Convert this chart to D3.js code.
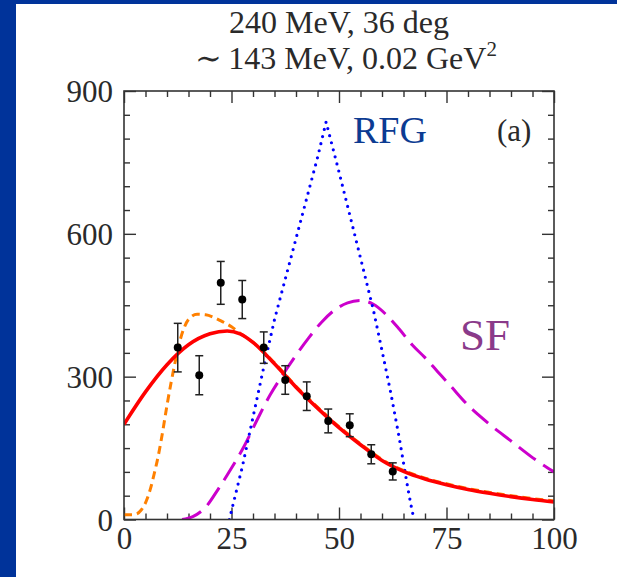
<!DOCTYPE html>
<html>
<head>
<meta charset="utf-8">
<script src="https://cdn.jsdelivr.net/npm/d3@7"></script>
<style>
  html, body { margin: 0; padding: 0; background: #ffffff; }
  svg { display: block; }
  text { font-family: "Liberation Serif", "DejaVu Serif", serif; }
</style>
</head>
<body>
<svg id="chart" width="617" height="577"></svg>
<script>
// Energy transfer axis values and tick labels
const xTicks = [0, 25, 50, 75, 100];
const yTicks = [0, 300, 600, 900];

// Measured cross section with uncertainties
const dataX   = [12.5, 17.5, 22.5, 27.5, 32.5, 37.5, 42.5, 47.5, 52.5, 57.5, 62.5];
const dataY   = [361, 303, 497, 462, 361, 293, 259, 207, 198, 137, 101];
const dataErr = [51, 41, 45, 40, 33, 30, 30, 25, 24, 20, 18];

// Full calculation (solid red)
const fullX = [0, 5, 10, 15, 20, 24, 27, 30, 35, 40, 45, 50, 55, 60, 65, 70, 75, 80, 85, 90, 95, 100];
const fullY = [200, 268, 325, 367, 390, 396, 390, 372, 327, 278, 234, 193, 157, 124, 101, 85, 73, 63, 55, 48, 42, 37];

// Alternative calculation (orange short dashes)
const altX = [0, 2, 3, 4, 5, 6, 7, 8, 9, 10, 11, 12, 13, 14, 15, 17, 19, 21, 23, 25, 27, 30, 35, 40, 45, 50, 55, 60, 65, 70, 75, 80, 85, 90, 95, 100];
const altY = [10, 10, 12, 20, 35, 60, 95, 135, 185, 240, 290, 335, 375, 403, 420, 431, 430, 424, 415, 405, 391, 372, 329, 280, 236, 195, 159, 126, 103, 87, 75, 65, 57, 50, 44, 39];

// Relativistic Fermi gas (blue dots)
const rfgX = [24.5, 27.5, 30, 32.5, 35, 37.5, 40, 42.5, 45, 47, 50, 53, 56, 58, 60, 62, 64, 66, 67, 67.5];
const rfgY = [0, 110, 215, 320, 420, 505, 590, 675, 760, 835, 730, 622, 513, 440, 355, 268, 172, 66, 18, 0];

// Spectral function (magenta long dashes)
const sfX = [13.5, 16, 19, 22, 25, 28, 31, 34, 37, 40, 43, 46, 49, 52, 55, 58, 61, 64, 67, 70, 73, 76, 80, 85, 90, 95, 100];
const sfY = [0, 6, 26, 65, 108, 155, 210, 262, 305, 345, 382, 415, 440, 455, 460, 452, 430, 400, 367, 340, 310, 280, 240, 200, 165, 130, 100];

const titleLines = ["240 MeV, 36 deg", "\u223C\u2009143 MeV, 0.02 GeV"];

const W = 617, H = 577;
const plot = { left: 124, right: 554, top: 91, bottom: 519.5 };

const svg = d3.select("#chart");

// page frame: white sheet with a blue band on the left and top
svg.append("rect").attr("x", 0).attr("y", 0).attr("width", W).attr("height", H).attr("fill", "#ffffff");
svg.append("rect").attr("x", 0).attr("y", 0).attr("width", 16).attr("height", H).attr("fill", "#00339a");
svg.append("rect").attr("x", 0).attr("y", 0).attr("width", W).attr("height", 4).attr("fill", "#00339a");

const x = d3.scaleLinear().domain([0, 100]).range([plot.left, plot.right]);
const y = d3.scaleLinear().domain([0, 900]).range([plot.bottom, plot.top]);

svg.append("clipPath").attr("id", "plotClip")
  .append("rect")
  .attr("x", plot.left).attr("y", plot.top)
  .attr("width", plot.right - plot.left).attr("height", plot.bottom - plot.top);

const axisColor = "#333333";
const majorX = xTicks;
const minorX = d3.range(0, 101, 5).filter(v => !majorX.includes(v));
const majorY = yTicks;
const minorY = d3.range(0, 901, 50).filter(v => !majorY.includes(v));

// inward ticks on all four sides
function addTicks(axisGen, translate, values, size) {
  const g = svg.append("g")
    .attr("transform", translate)
    .call(axisGen.tickValues(values).tickSize(size).tickFormat(""));
  g.select(".domain").remove();
  g.selectAll(".tick line").attr("stroke", axisColor).attr("stroke-width", 1.4);
  return g;
}
addTicks(d3.axisTop(x), `translate(0,${plot.bottom})`, majorX, 12);
addTicks(d3.axisTop(x), `translate(0,${plot.bottom})`, minorX, 6);
addTicks(d3.axisBottom(x), `translate(0,${plot.top})`, majorX, 12);
addTicks(d3.axisBottom(x), `translate(0,${plot.top})`, minorX, 6);
addTicks(d3.axisRight(y), `translate(${plot.left},0)`, majorY, 12);
addTicks(d3.axisRight(y), `translate(${plot.left},0)`, minorY, 6);
addTicks(d3.axisLeft(y), `translate(${plot.right},0)`, majorY, 12);
addTicks(d3.axisLeft(y), `translate(${plot.right},0)`, minorY, 6);

// tick labels
const xLab = svg.append("g")
  .attr("transform", `translate(0,${plot.bottom})`)
  .call(d3.axisBottom(x).tickValues(xTicks).tickSize(0).tickPadding(0).tickFormat(d3.format("d")));
xLab.select(".domain").remove();
xLab.selectAll("text")
  .attr("y", 29).attr("dy", 0)
  .attr("font-size", 31).attr("fill", "#2a2a2a")
  .attr("font-family", "Liberation Serif, serif");

const yLab = svg.append("g")
  .attr("transform", `translate(${plot.left},0)`)
  .call(d3.axisLeft(y).tickValues(yTicks).tickSize(0).tickPadding(0).tickFormat(d3.format("d")));
yLab.select(".domain").remove();
yLab.selectAll("text")
  .attr("x", -11).attr("dy", "0.35em")
  .attr("font-size", 31).attr("fill", "#2a2a2a")
  .attr("font-family", "Liberation Serif, serif");

// curves
const curves = svg.append("g").attr("clip-path", "url(#plotClip)");
const toPts = (xs, ys) => xs.map((v, i) => [v, ys[i]]);
const smooth = d3.line().x(d => x(d[0])).y(d => y(d[1])).curve(d3.curveMonotoneX);
const straight = d3.line().x(d => x(d[0])).y(d => y(d[1])).curve(d3.curveLinear);

curves.append("path")
  .attr("d", smooth(toPts(sfX, sfY)))
  .attr("fill", "none").attr("stroke", "#cc00cc").attr("stroke-width", 3)
  .attr("stroke-dasharray", "21 9");

curves.append("path")
  .attr("d", straight(toPts(rfgX, rfgY)))
  .attr("fill", "none").attr("stroke", "#0000ff").attr("stroke-width", 3.2)
  .attr("stroke-linecap", "round")
  .attr("stroke-dasharray", "0 7.3");

curves.append("path")
  .attr("d", smooth(toPts(altX, altY)))
  .attr("fill", "none").attr("stroke", "#ff8000").attr("stroke-width", 3)
  .attr("stroke-dasharray", "8 5");

curves.append("path")
  .attr("d", smooth(toPts(fullX, fullY)))
  .attr("fill", "none").attr("stroke", "#ff0000").attr("stroke-width", 3.6);

// data with error bars
const pts = svg.append("g");
dataX.forEach((dx, i) => {
  const cx = x(dx);
  const lo = y(dataY[i] - dataErr[i]), hi = y(dataY[i] + dataErr[i]);
  pts.append("line").attr("x1", cx).attr("x2", cx).attr("y1", lo).attr("y2", hi)
    .attr("stroke", "#222").attr("stroke-width", 1.5);
  [lo, hi].forEach(yy => pts.append("line")
    .attr("x1", cx - 4).attr("x2", cx + 4).attr("y1", yy).attr("y2", yy)
    .attr("stroke", "#222").attr("stroke-width", 1.5));
  pts.append("circle").attr("cx", cx).attr("cy", y(dataY[i])).attr("r", 4).attr("fill", "#000");
});

// plot frame
svg.append("rect")
  .attr("x", plot.left).attr("y", plot.top)
  .attr("width", plot.right - plot.left).attr("height", plot.bottom - plot.top)
  .attr("fill", "none").attr("stroke", axisColor).attr("stroke-width", 1.6);

// title
const cxTitle = (plot.left + plot.right) / 2;
svg.append("text").attr("x", cxTitle).attr("y", 33).attr("text-anchor", "middle")
  .attr("font-size", 32).attr("fill", "#2a2a2a").text(titleLines[0]);
const t2 = svg.append("text").attr("x", cxTitle + 7).attr("y", 69).attr("text-anchor", "middle")
  .attr("font-size", 32).attr("fill", "#2a2a2a");
t2.append("tspan").text(titleLines[1]);
t2.append("tspan").attr("dy", -13).attr("font-size", 21).text("2");

// curve labels
svg.append("text").attr("x", 353).attr("y", 143).attr("font-size", 38)
  .attr("fill", "#0c3b92").text("RFG");
svg.append("text").attr("x", 497).attr("y", 141).attr("font-size", 31)
  .attr("fill", "#2a2a2a").text("(a)");
svg.append("text").attr("x", 460).attr("y", 350).attr("font-size", 45)
  .attr("fill", "#8a3a8a").text("SF");
</script>
</body>
</html>
